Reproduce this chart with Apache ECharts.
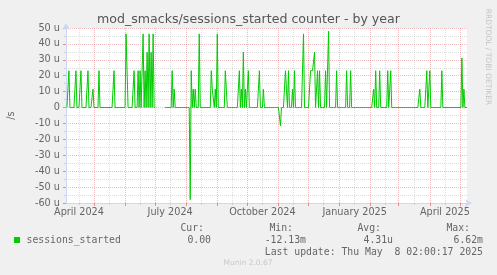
<!DOCTYPE html>
<html><head><meta charset="utf-8">
<script src="https://cdn.jsdelivr.net/npm/echarts@6/dist/echarts.min.js"></script>
<style>html,body{margin:0;padding:0;background:#f0f0f0;}#c{width:497px;height:275px;}</style>
</head><body><div id="c"></div>
<script>
// ---- data (values in micro-sessions per second, "u") ----
const spikeDates = [
 '2024-04-06','2024-04-13','2024-04-18','2024-04-25','2024-04-30','2024-05-06','2024-05-21',
 '2024-06-02','2024-06-03','2024-06-10','2024-06-14','2024-06-16','2024-06-19','2024-06-21',
 '2024-06-23','2024-06-25','2024-06-27','2024-06-29',
 '2024-07-18','2024-07-20','2024-08-05','2024-08-06','2024-08-08','2024-08-10','2024-08-14',
 '2024-08-26','2024-08-27','2024-08-28','2024-08-30','2024-09-01','2024-09-09','2024-09-10',
 '2024-09-23','2024-09-25','2024-09-27','2024-09-29','2024-10-02','2024-10-13','2024-10-17',
 '2024-11-03','2024-11-08','2024-11-09','2024-11-11','2024-11-15','2024-11-17','2024-11-26',
 '2024-12-03','2024-12-04','2024-12-05','2024-12-06','2024-12-07','2024-12-10','2024-12-12',
 '2024-12-18','2024-12-21','2024-12-29','2025-01-08','2025-01-12',
 '2025-02-04','2025-02-06','2025-02-10','2025-02-18','2025-02-20','2025-02-21',
 '2025-03-22','2025-03-29','2025-04-01','2025-04-13','2025-05-03','2025-05-05'
];
const spikeValues = [
 23.15,23.15,23.15,23.15,11.57,23.15,23.15,
 46.3,46.3,23.15,23.15,23.15,46.3,23.15,
 34.72,46.3,34.72,46.3,
 23.15,11.57,-57.87,23.15,11.57,11.57,46.3,
 23.15,11.57,11.57,11.57,46.3,23.15,23.15,
 23.15,11.57,34.72,11.57,23.15,23.15,11.57,
 -11.57,23.15,11.57,23.15,11.57,23.15,46.3,
 23.15,23.15,23.15,23.15,34.72,23.15,23.15,
 23.15,48.0,23.15,23.15,23.15,
 11.57,23.15,23.15,23.15,11.57,23.15,
 11.57,23.15,23.15,23.15,31.2,11.57
];
const firstDay = '2024-04-04';
const lastDay = '2025-05-08';
const gapDates = ['2024-07-02','2024-07-10'];
const monthStarts = ['2024-05-01','2024-06-01','2024-07-01','2024-08-01','2024-09-01','2024-10-01','2024-11-01','2024-12-01','2025-01-01','2025-02-01','2025-03-01','2025-04-01','2025-05-01'];
const midMonths = ['2024-04-16','2024-05-16','2024-06-16','2024-07-16','2024-08-16','2024-09-16','2024-10-16','2024-11-16','2024-12-16','2025-01-16','2025-02-16','2025-03-16','2025-04-16'];
const xLabelDates = ['2024-04-16','2024-07-16','2024-10-16','2025-01-16','2025-04-16'];
const xLabelTexts = ['April 2024','July 2024','October 2024','January 2025','April 2025'];
const yMin = -60, yMax = 50, yStep = 10;
const seriesName = 'sessions_started';
const legendHeaders = ['Cur:','Min:','Avg:','Max:'];
const legendValues = ['0.00','-12.13m','4.31u','6.62m'];
const lastUpdate = 'Last update: Thu May  8 02:00:17 2025';
const titleText = 'mod_smacks/sessions_started counter - by year';

// ---- build ----
const DAY = 86400000;
function ts(s){const p=s.split('-').map(Number);return Date.UTC(p[0],p[1]-1,p[2]);}
const rangeStart = Date.UTC(2024,3,3,2,0,0);
const rangeEnd = Date.UTC(2025,4,8,2,0,0);
function dx(s){return (ts(s)-rangeStart)/DAY;}  // day offset on the x scale
const lookup = {};
spikeDates.forEach((d,i)=>{lookup[ts(d)] = spikeValues[i];});
const g0 = ts(gapDates[0]), g1 = ts(gapDates[1]);
const seriesData = [];
for (let t = ts(firstDay); t <= ts(lastDay); t += DAY) {
  const v = (t >= g0 && t <= g1) ? null : (lookup[t] !== undefined ? lookup[t] : 0);
  seriesData.push([(t-rangeStart)/DAY, v]);
}
const labelX = xLabelDates.map(dx);
function xLabelFmt(v){
  let best=0, bd=Infinity;
  labelX.forEach((t,i)=>{const d=Math.abs(t-v); if(d<bd){bd=d;best=i;}});
  return xLabelTexts[best];
}
const xMax = (rangeEnd-rangeStart)/DAY;
const FONT = '"DejaVu Sans", Verdana, sans-serif';
const MONO = '"DejaVu Sans Mono", monospace';
const txt = '#666666';
const majorGrid = 'rgba(210,80,80,0.38)';
const minorGrid = 'rgba(150,150,150,0.32)';
const axisCol = '#cfd6f8';

const chart = echarts.init(document.getElementById('c'), null, {renderer:'canvas'});
const headerRight = [204, 293, 381, 470];
const valueRight = [211, 306, 393, 483];
const ts_ = (o)=>Object.assign({textAlign:o.align, textVerticalAlign:'middle', verticalAlign:'middle'}, o);
const graphics = [
  {type:'text', x:248.5, y:19.5, style:ts_({text:titleText, font:'12.6px '+FONT, fill:'#555', align:'center'})},
  {type:'text', x:487.5, y:57, rotation:-Math.PI/2, style:ts_({text:'RRDTOOL / TOBI OETIKER', font:'7.5px '+FONT, fill:'#c4c4c4', align:'center'})},
  {type:'rect', shape:{x:14, y:237, width:6, height:6}, style:{fill:'#00cc00'}},
  {type:'text', x:26.5, y:240.5, style:ts_({text:seriesName, font:'9.8px '+MONO, fill:txt, align:'left'})},
  {type:'text', x:483, y:252, style:ts_({text:lastUpdate, font:'9.8px '+MONO, fill:txt, align:'right'})},
  {type:'text', x:248, y:263.5, style:ts_({text:'Munin 2.0.67', font:'7.5px '+FONT, fill:'#c8c8c8', align:'center'})}
];
legendHeaders.forEach((h,i)=>graphics.push({type:'text', x:headerRight[i], y:228, style:ts_({text:h, font:'9.8px '+MONO, fill:txt, align:'right'})}));
legendValues.forEach((h,i)=>graphics.push({type:'text', x:valueRight[i], y:240.5, style:ts_({text:h, font:'9.8px '+MONO, fill:txt, align:'right'})}));

chart.setOption({
  animation:false,
  backgroundColor:'#f0f0f0',
  grid:{left:66, right:30, top:28, bottom:72, containLabel:false, outerBoundsMode:'none', show:true, backgroundColor:'#ffffff', borderWidth:0},
  xAxis:[
    {type:'value', min:0, max:xMax, position:'bottom',
     axisLine:{show:true, onZero:false, lineStyle:{color:axisCol, width:1}, symbol:['none','arrow'], symbolSize:[6,7], symbolOffset:[0,5]},
     axisTick:{show:true, customValues:midMonths.map(dx), length:2, lineStyle:{color:'#d0d0d0'}},
     splitLine:{show:true, lineStyle:{color:minorGrid, width:1, type:[1,1]}},
     axisLabel:{show:true, customValues:labelX, formatter:xLabelFmt, color:txt, fontFamily:FONT, fontSize:9.7, margin:4}
    },
    {type:'value', min:0, max:xMax, position:'bottom',
     axisLine:{show:false, onZero:false},
     axisTick:{show:true, customValues:monthStarts.map(dx), length:3, lineStyle:{color:'#e09090'}},
     splitLine:{show:true, lineStyle:{color:majorGrid, width:1, type:[1,1]}},
     axisLabel:{show:false}
    }
  ],
  yAxis:{type:'value', min:yMin, max:yMax, interval:yStep,
    name:'/s', nameLocation:'middle', nameGap:50, nameRotate:90,
    nameTextStyle:{color:txt, fontFamily:FONT, fontSize:9.7},
    axisLine:{show:true, lineStyle:{color:axisCol, width:1}, symbol:['none','arrow'], symbolSize:[6,7], symbolOffset:[0,5]},
    axisTick:{show:true, length:3, lineStyle:{color:'#e09090'}},
    minorTick:{show:true, splitNumber:2, length:2, lineStyle:{color:'#d0d0d0'}},
    splitLine:{show:true, lineStyle:{color:majorGrid, width:1, type:[1,1]}},
    minorSplitLine:{show:true, lineStyle:{color:minorGrid, width:1, type:[1,1]}},
    axisLabel:{color:txt, fontFamily:FONT, fontSize:9.7, margin:6, formatter:v=> v===0 ? '0' : v+' u'}
  },
  series:[{name:seriesName, type:'line', xAxisIndex:0, data:seriesData, showSymbol:false, symbol:'none',
    lineStyle:{color:'#00cc00', width:1}, connectNulls:false, z:5}],
  graphic:graphics
});
</script></body></html>
